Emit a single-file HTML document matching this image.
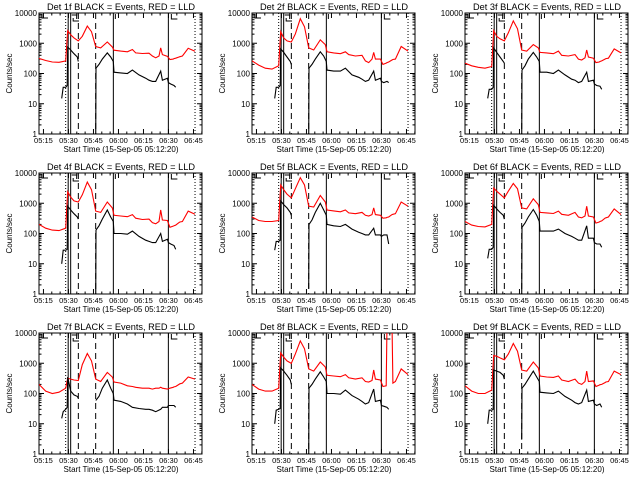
<!DOCTYPE html>
<html><head><meta charset="utf-8"><style>
html,body{margin:0;padding:0;background:#fff;}
svg{display:block;font-family:"Liberation Sans",sans-serif;}
</style></head><body>
<svg id="chart" width="640" height="480" viewBox="0 0 640 480">
<rect width="640" height="480" fill="#fff"/>
</svg>
<script>
// time (minutes since 05:12:20)
const redTimes = [0,4,8,12,16,17.2,19,21,23.6,26,29,31.5,34,37,41,44,45,49,53,56,58,62,66,68,70,72,73,74,77,78.5,80.5,81,82,84,84.5,86,89.5,93.6];
const blackTimes = [13.6,14.5,16,16.9,17.2,19,21,23,23.6,28,34,34.2,36,38,41,43,44.6,45,49,53,56,60,64,66,68,70,73,74,77,77.6,79,81,82];
const detLabels = ["1","2","3","4","5","6","7","8","9"];
const red1 = [316,270,240,235,260,2600,1900,1500,1200,1700,3700,2400,780,700,1100,750,590,550,520,620,480,460,470,380,330,380,700,420,370,290,300,310,320,350,360,380,680,540];
const red2 = [260,190,150,140,180,2400,1500,1200,1100,2000,6500,3500,700,600,1300,900,520,480,450,520,420,380,400,260,230,300,500,300,300,200,220,230,240,280,290,300,780,550];
const red3 = [220,180,160,150,170,2600,1700,1400,1200,2200,5500,3000,600,550,900,700,500,480,450,550,400,380,420,300,280,330,600,350,320,230,240,250,260,300,310,320,650,480];
const red4 = [200,150,130,125,150,2400,1600,1200,1100,1900,5000,2800,550,500,1100,700,400,380,360,420,320,290,300,230,210,250,600,280,270,160,175,180,190,230,240,250,550,430];
const red5 = [350,270,250,250,270,4000,2800,2000,1500,3000,7000,4000,800,750,1800,1100,600,560,520,600,480,450,500,400,380,420,700,420,400,320,330,340,350,420,430,450,1100,800];
const red6 = [250,190,170,165,200,3200,2500,2000,1500,2500,4500,3000,700,650,1400,900,500,480,460,550,430,400,500,350,330,380,800,380,350,220,240,250,260,320,330,350,650,420];
const red7 = [200,120,100,110,150,320,300,280,270,900,2100,1200,300,250,500,350,240,220,180,170,160,150,150,140,150,150,160,150,140,150,160,165,170,200,210,220,350,300];
const red8 = [200,140,120,120,150,2200,1600,1200,1000,2000,5500,3000,650,550,1100,750,400,380,360,420,330,300,330,250,240,270,600,300,280,170,180,20000,20000,20000,220,250,650,420];
const red9 = [180,120,100,100,130,1800,1700,1500,1300,2000,4500,2500,600,550,1100,700,380,350,340,380,280,250,300,220,200,250,550,250,260,170,190,195,200,230,240,250,550,420];
const black1 = [15,35,35,40,750,600,450,350,250,null,0.5,150,200,300,480,350,250,110,105,100,130,90,70,60,55,55,120,60,70,50,45,40,35];
const black2 = [15,35,35,40,650,500,350,250,200,null,0.5,150,200,300,520,380,250,130,120,120,150,90,75,65,55,60,120,60,70,55,50,55,50];
const black3 = [15,30,30,35,700,500,350,250,220,null,0.5,130,180,300,500,350,250,110,110,100,130,90,65,60,50,55,110,55,60,45,40,38,30];
const black4 = [10,28,28,30,800,600,450,350,300,null,0.5,130,180,300,600,350,250,100,100,95,120,80,60,55,50,50,100,55,65,50,45,40,30];
const black5 = [28,55,55,60,1200,900,700,500,400,null,1.5,200,280,500,1000,600,400,200,180,170,200,140,110,100,90,90,150,90,90,80,90,90,45];
const black6 = [15,30,30,35,850,650,500,400,300,null,0.5,160,220,350,620,400,250,120,120,120,140,100,80,70,60,60,180,70,70,50,45,45,35];
const black7 = [15,25,30,35,350,120,90,80,70,null,60,60,80,150,280,150,100,60,55,45,35,32,30,30,28,25,30,35,35,40,40,40,35];
const black8 = [10,28,30,32,700,550,400,280,200,null,0.5,150,200,300,520,350,250,100,100,95,130,85,65,55,45,50,140,55,60,40,38,35,30];
const black9 = [10,28,28,30,600,550,500,400,300,null,3,150,200,300,550,350,250,110,105,100,120,80,60,50,45,50,130,55,60,45,40,45,35];
const redSeries = [red1,red2,red3,red4,red5,red6,red7,red8,red9];
const blackSeries = [black1,black2,black3,black4,black5,black6,black7,black8,black9];
const xTickLabels = ["05:15","05:30","05:45","06:00","06:15","06:30","06:45"];
const xTickTimes = [2.67,17.67,32.67,47.67,62.67,77.67,92.67];
const yTickLabels = ["1","10","100","1000","10000"];
const yTickValues = [1,10,100,1000,10000];
const solidLines = [17.5,19,44.6,77.6];
const dashedLines = [23.6,34];
const dottedLines = [16,93.6];

const NS = "http://www.w3.org/2000/svg";
const svg = document.getElementById('chart');
const L = 39, R = 202, T = 13, B = 134;
const PXM = 1.667;
function xs(t){ return L + t*PXM; }
function ys(v){ const lv = Math.log10(Math.max(v, 0.1)); return B - lv*(B-T)/4; }
function mk(tag, attrs, parent){
  const e = document.createElementNS(NS, tag);
  for (const k in attrs) e.setAttribute(k, attrs[k]);
  parent.appendChild(e); return e;
}
const defs = mk('defs', {}, svg);
const cp = mk('clipPath', {id:'pc'}, defs);
mk('rect', {x:L, y:T, width:R-L, height:B-T}, cp);

for (let p = 0; p < 9; p++){
  const ox = (p%3)*213, oy = Math.floor(p/3)*160;
  const g = mk('g', {transform:`translate(${ox},${oy})`}, svg);
  
  

  const title = mk('text', {x:121, y:10, 'font-size':9.5, 'text-anchor':'middle', textLength:148, lengthAdjust:'spacingAndGlyphs'}, g);
  
  
  title.textContent = 'Det ' + detLabels[p] + 'f BLACK = Events, RED = LLD';

  const frame = mk('rect', {x:L, y:T, width:R-L, height:B-T, fill:'none', stroke:'#000', 'stroke-width':1}, g);
  
  

  for (let i = 0; i < yTickValues.length; i++){
    const y = ys(yTickValues[i]);
    mk('line', {x1:L, x2:L+5, y1:y, y2:y, stroke:'#000'}, g);
    mk('line', {x1:R-5, x2:R, y1:y, y2:y, stroke:'#000'}, g);
    const lb = mk('text', {x:L-2, y:y+3, 'font-size':8, 'text-anchor':'end'}, g);
    
    
    lb.textContent = yTickLabels[i];
    if (i < yTickValues.length-1){
      for (let m = 2; m < 10; m++){
        const ym = ys(yTickValues[i]*m);
        mk('line', {x1:L, x2:L+2.5, y1:ym, y2:ym, stroke:'#000'}, g);
        mk('line', {x1:R-2.5, x2:R, y1:ym, y2:ym, stroke:'#000'}, g);
      }
    }
  }
  for (let i = 0; i < xTickTimes.length; i++){
    const x = xs(xTickTimes[i]);
    mk('line', {x1:x, x2:x, y1:B, y2:B-5, stroke:'#000'}, g);
    mk('line', {x1:x, x2:x, y1:T, y2:T+5, stroke:'#000'}, g);
    for (let m = 5; m < 15; m += 5){
      const xm = xs(xTickTimes[i]+m);
      if (xm < R){ mk('line', {x1:xm, x2:xm, y1:B, y2:B-2.5, stroke:'#000'}, g); mk('line', {x1:xm, x2:xm, y1:T, y2:T+2.5, stroke:'#000'}, g); }
    }
    const lb = mk('text', {x:x, y:B+9, 'font-size':7.5, 'text-anchor':'middle'}, g);
    
    
    lb.textContent = xTickLabels[i];
  }
  const xt = mk('text', {x:121, y:B+18, 'font-size':8.5, 'text-anchor':'middle', textLength:115, lengthAdjust:'spacingAndGlyphs'}, g);
  
  
  xt.textContent = 'Start Time (15-Sep-05 05:12:20)';
  const yt = mk('text', {x:0, y:0, 'font-size':8, 'text-anchor':'middle', transform:`translate(12,${(T+B)/2}) rotate(-90)`}, g);
  
  
  yt.textContent = 'Counts/sec';

  const vg = mk('g', {stroke:'#000', 'stroke-width':1}, g);
  
  
  solidLines.forEach(t => mk('line', {x1:xs(t), x2:xs(t), y1:T, y2:B}, vg));
  dashedLines.forEach(t => mk('line', {x1:xs(t), x2:xs(t), y1:T, y2:B, 'stroke-dasharray':'6,4'}, vg));
  dottedLines.forEach(t => mk('line', {x1:xs(t), x2:xs(t), y1:T, y2:B, 'stroke-dasharray':'1,2'}, vg));
  mk('polyline', {points:`${L+3},${T+1} ${L+3},${T+5} ${L+9},${T+5}`, fill:'none'}, vg);
  mk('polyline', {points:`${xs(19)+1},${T+2} ${xs(19)+6},${T+2} ${xs(19)+6},${T+6}`, fill:'none'}, vg);
  mk('polyline', {points:`${xs(20.5)},${T+5} ${xs(20.5)},${T+8} ${xs(24)},${T+8}`, fill:'none'}, vg);
  mk('line', {x1:xs(44.6)+2, x2:xs(44.6)+2, y1:T+1, y2:T+6}, vg);
  mk('polyline', {points:`${xs(77.6)+3},${T+1} ${xs(77.6)+3},${T+6} ${xs(77.6)+9},${T+6}`, fill:'none'}, vg);

  function path(times, vals){
    let d = '', pen = false;
    for (let i = 0; i < times.length; i++){
      if (vals[i] === null){ pen = false; continue; }
      d += (pen ? 'L' : 'M') + xs(times[i]).toFixed(1) + ',' + ys(vals[i]).toFixed(1);
      pen = true;
    }
    return d;
  }
  const rp = mk('path', {d:path(redTimes, redSeries[p]), fill:'none', stroke:'#ff0000', 'stroke-width':1.1, 'clip-path':'url(#pc)'}, g);
  
  
  const bp = mk('path', {d:path(blackTimes, blackSeries[p]), fill:'none', stroke:'#000', 'stroke-width':1.1, 'clip-path':'url(#pc)'}, g);
  
  
}
</script>
</body></html>
